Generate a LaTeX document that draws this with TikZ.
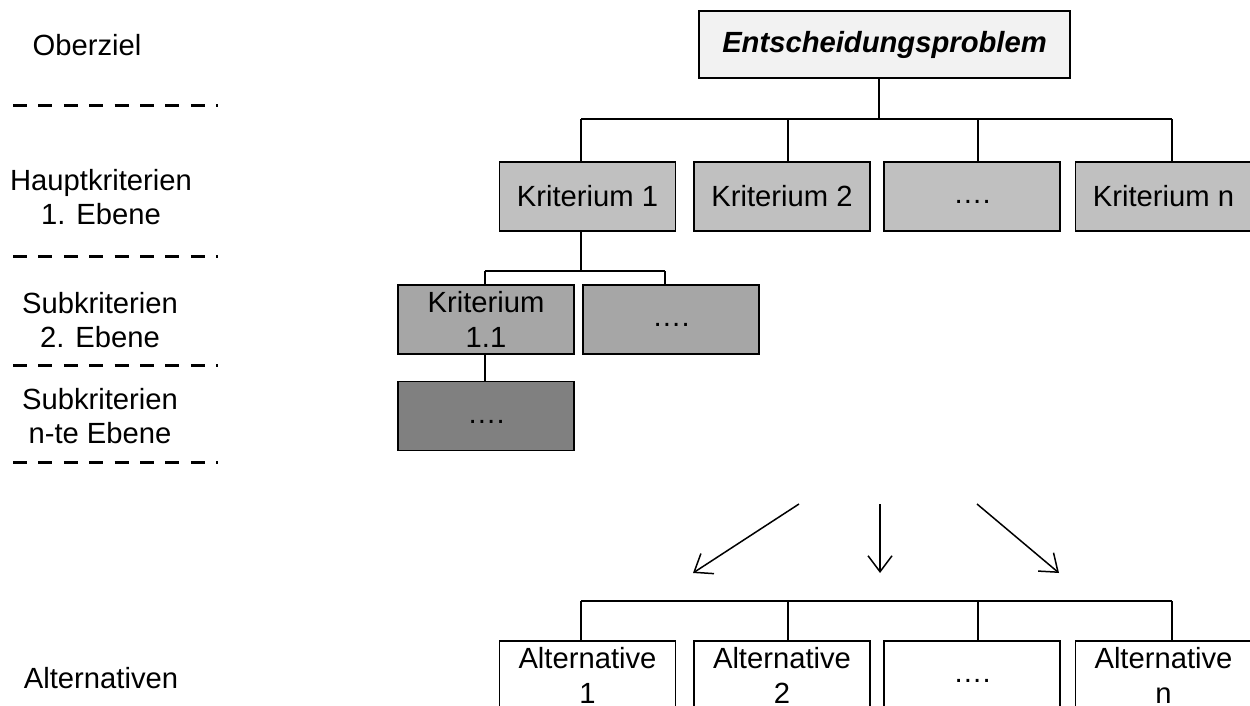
\documentclass[tikz,border=0pt]{standalone}
\usepackage{fontspec}
\setmainfont{Liberation Sans}
\usetikzlibrary{arrows.meta,calc}
\definecolor{rootfill}{HTML}{F2F2F2}
\definecolor{onefill}{HTML}{C0C0C0}
\definecolor{twofill}{HTML}{A6A6A6}
\definecolor{nfill}{HTML}{808080}
\newcommand{\gapdots}{\vphantom{Kg}….}
\begin{document}
\begin{tikzpicture}[x=0.5pt,y=-0.5pt,
  txt/.style={font=\fontsize{14.6}{17.2}\selectfont},
  box/.style={txt,draw=black,line width=0.75pt,minimum width=88pt,minimum height=34.5pt,
              align=center,inner sep=0pt},
  rootbox/.style={box,fill=rootfill,minimum width=185.5pt,minimum height=33.5pt,
                  font=\fontsize{14.6}{17.2}\selectfont\bfseries\itshape},
  onebox/.style={box,fill=onefill},
  twobox/.style={box,fill=twofill},
  nbox/.style={box,fill=nfill},
  altbox/.style={box,fill=white},
  conn/.style={line width=0.75pt},
  bus/.style={line width=1pt},
  sep/.style={line width=1.5pt,dash pattern=on 7pt off 5.7pt},
  arr/.style={line width=0.75pt,-{Straight Barb[length=8pt,width=12pt,line width=0.75pt]}},
  lab/.style={txt,align=center,inner sep=0pt}
]
\clip (0,0) rectangle (1250,706);
\fill[white] (0,0) rectangle (1250,706);

% level labels and separators
\node[lab] (lOber) at (87,45) {Oberziel};
\node[lab] (lHaupt) at (101,197) {Hauptkriterien\\1. Ebene};
\node[lab] (lSub2) at (100,320) {Subkriterien\\2. Ebene};
\node[lab] (lSubn) at (100,416) {Subkriterien\\n-te Ebene};
\node[lab] (lAlt) at (101,678) {Alternativen};
\foreach \y in {106,257,366,462}
  \draw[sep] (13,\y) -- (218,\y);

% root
\node[rootbox] (root) at (884.5,44.5) {Entscheidungsproblem};

% main criteria
\node[onebox] (k1) at (587.5,196.5) {Kriterium 1};
\node[onebox] (k2) at (782,196.5) {Kriterium 2};
\node[onebox] (k3) at (972,196.5) {\gapdots};
\node[onebox] (kn) at (1163.5,196.5) {Kriterium n};

% sub criteria
\node[twobox] (k11) at (486,319.5) {Kriterium\\1.1};
\node[twobox] (k12) at (671,319.5) {\gapdots};
\node[nbox] (k111) at (486,416) {\gapdots};

% alternatives
\node[altbox] (a1) at (587.5,675.5) {Alternative\\1};
\node[altbox] (a2) at (782,675.5) {Alternative\\2};
\node[altbox] (a3) at (972,675.5) {\gapdots};
\node[altbox] (an) at (1163.5,675.5) {Alternative\\n};

% tree connectors
\coordinate (busA) at (0,119);
\draw[conn] ([xshift=-2.75pt]root.south) -- ([xshift=-2.75pt]root.south |- busA);
\draw[bus] ([xshift=-3.25pt]k1.north |- busA) -- ([xshift=4.25pt]kn.north |- busA);
\draw[conn] ([xshift=-3.25pt]k1.north) -- ([xshift=-3.25pt]k1.north |- busA);
\draw[conn] ([xshift=3pt]k2.north) -- ([xshift=3pt]k2.north |- busA);
\draw[conn] ([xshift=3pt]k3.north) -- ([xshift=3pt]k3.north |- busA);
\draw[conn] ([xshift=4.25pt]kn.north) -- ([xshift=4.25pt]kn.north |- busA);

\coordinate (busB) at (0,271);
\draw[conn] ([xshift=-3.25pt]k1.south) -- ([xshift=-3.25pt]k1.south |- busB);
\draw[bus] ([xshift=-0.5pt]k11.north |- busB) -- ([xshift=-3pt]k12.north |- busB);
\draw[conn] ([xshift=-0.5pt]k11.north) -- ([xshift=-0.5pt]k11.north |- busB);
\draw[conn] ([xshift=-3pt]k12.north) -- ([xshift=-3pt]k12.north |- busB);
\draw[conn] ([xshift=-0.5pt]k11.south) -- ([xshift=-0.5pt]k111.north);

\coordinate (busC) at (0,601);
\draw[bus] ([xshift=-3.25pt]a1.north |- busC) -- ([xshift=4.25pt]an.north |- busC);
\draw[conn] ([xshift=-3.25pt]a1.north) -- ([xshift=-3.25pt]a1.north |- busC);
\draw[conn] ([xshift=3pt]a2.north) -- ([xshift=3pt]a2.north |- busC);
\draw[conn] ([xshift=3pt]a3.north) -- ([xshift=3pt]a3.north |- busC);
\draw[conn] ([xshift=4.25pt]an.north) -- ([xshift=4.25pt]an.north |- busC);

% arrows towards the alternatives
\coordinate (s1) at (799,504);
\coordinate (e1) at (693,573);
\coordinate (s2) at (880,504);
\coordinate (e2) at (880,573);
\coordinate (s3) at (977,504);
\coordinate (e3) at (1059,573);
\draw[arr] (s1) -- (e1);
\draw[arr] (s2) -- (e2);
\draw[arr] (s3) -- (e3);
\end{tikzpicture}
\end{document}
